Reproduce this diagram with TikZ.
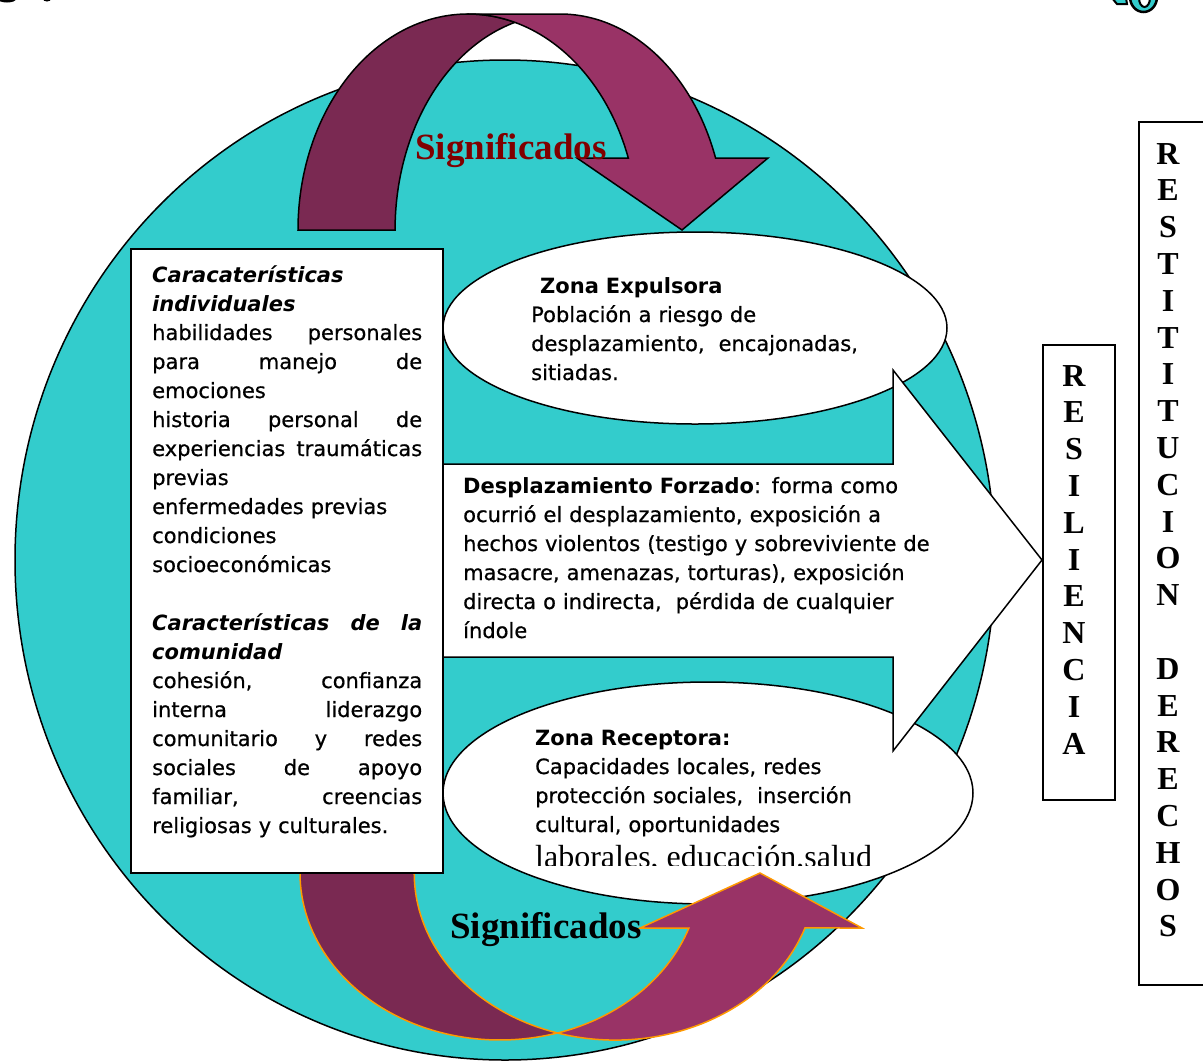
\documentclass[tikz,border=0pt]{standalone}
\usepackage{fontspec}
\setmainfont{DejaVu Sans}[UprightFeatures={FakeBold=0.6}]
\newfontfamily\tnr{Liberation Serif}
\definecolor{ringcyan}{HTML}{33CCCC}
\definecolor{plumdark}{HTML}{7A2952}
\definecolor{plumlight}{HTML}{993366}
\definecolor{wine}{HTML}{800000}
\definecolor{amber}{HTML}{FF9900}
% a line spread over the full column width
\newcommand{\jline}[1]{\leavevmode\hbox to 270pt{#1}}
\begin{document}
\begin{tikzpicture}[x=1pt,y=-1pt,
  outl/.style={draw=black,line width=1.5pt,line join=miter},
  body/.style={font=\fontsize{21}{29}\selectfont,inner sep=0pt,align=left,anchor=base west},
  vword/.style={font=\tnr\bfseries\fontsize{32}{36.8}\selectfont,inner sep=0pt,align=center,text width=60pt,anchor=base},
  bigword/.style={font=\tnr\bfseries\fontsize{37}{37}\selectfont,inner sep=0pt,anchor=base}]
\useasboundingbox (0,0) rectangle (1203,1061);

% stray fragments at the upper edge
\fill[black] (7,-1) ellipse [x radius=9pt,y radius=3.5pt];
\fill[black] (47,-1) ellipse [x radius=4pt,y radius=2.5pt];
\filldraw[fill=ringcyan,draw=black,line width=2pt] (1112,-2) -- (1126,-2) -- (1127,4) -- (1117,4) -- cycle;
\filldraw[fill=ringcyan,draw=black,line width=2.5pt] (1143.5,-3) ellipse [x radius=13.5pt,y radius=15pt];
\filldraw[fill=white,draw=black,line width=2pt] (1144.5,-2) ellipse [x radius=5.5pt,y radius=9pt];

% large cyan disc
\path[outl,fill=ringcyan] (505,560) ellipse [x radius=490pt,y radius=500pt];

% zones
\path[outl,fill=white] (695,328) ellipse [x radius=252pt,y radius=96pt];
\path[outl,fill=white] (708,793) ellipse [x radius=265pt,y radius=111pt];

% upper curved arrow: back half, then front half with the head
\path[outl,fill=plumdark] (298,230)
  arc[start angle=180,end angle=74,x radius=170pt,y radius=216pt]
  arc[start angle=105.9,end angle=180,x radius=165pt,y radius=216pt] -- cycle;
\path[outl,fill=plumlight] (468,14) -- (560,14)
  arc[start angle=90,end angle=19.47,x radius=165pt,y radius=216pt]
  -- (768,158) -- (682,230) -- (577,158) -- (628.3,158)
  arc[start angle=19.47,end angle=90,x radius=170pt,y radius=216pt] -- cycle;

% block arrow towards resilience
\path[outl,fill=white] (435,464) -- (893,464) -- (893,370) -- (1042,560)
  -- (893,751) -- (893,657) -- (435,657) -- cycle;

% lower curved arrow
\path[draw=amber,line width=1.5pt,fill=plumdark] (300,873)
  arc[start angle=180,end angle=286.7,x radius=200pt,y radius=167pt]
  arc[start angle=253.3,end angle=180,x radius=201pt,y radius=167pt] -- cycle;
\path[draw=amber,line width=1.5pt,fill=plumlight] (557.4,1033)
  arc[start angle=253.3,end angle=340.8,x radius=201pt,y radius=167pt]
  -- (862,928) -- (760,873) -- (640,928) -- (688.9,928)
  arc[start angle=340.8,end angle=286.7,x radius=200pt,y radius=167pt] -- cycle;

% characteristics box
\path[outl,fill=white] (131,249) rectangle (443,873);
\node[body,text width=270pt] (carac) at (152,282) {%
\textbf{\textit{Caracaterísticas}}\\
\textbf{\textit{individuales}}\\
\jline{habilidades\hfill personales}\\
\jline{para\hfill manejo\hfill de}\\
emociones\\
\jline{historia\hfill personal\hfill de}\\
\jline{experiencias\hfill traumáticas}\\
previas\\
enfermedades previas\\
condiciones\\
socioeconómicas\\[29pt]
\jline{\textbf{\textit{Características\hfill de\hfill la}}}\\
\textbf{\textit{comunidad}}\\
\jline{cohesión,\hfill confianza}\\
\jline{interna\hfill liderazgo}\\
\jline{comunitario\hfill y\hfill redes}\\
\jline{sociales\hfill de\hfill apoyo}\\
\jline{familiar,\hfill creencias}\\
religiosas y culturales.};

% zone texts
\node[body,text width=400pt] (expul) at (531,293) {%
\hspace*{9pt}\textbf{Zona Expulsora}\\
Población a riesgo de\\
desplazamiento,\ \ encajonadas,\\
sitiadas.};
\node[body,text width=500pt] (despl) at (463,493) {%
\textbf{Desplazamiento Forzado}: forma como\\
ocurrió el desplazamiento, exposición a\\
hechos violentos (testigo y sobreviviente de\\
masacre, amenazas, torturas), exposición\\
directa o indirecta,\ \ pérdida de cualquier\\
índole};
\node[body,text width=400pt] (recep) at (535,745) {%
\textbf{Zona Receptora:}\\
Capacidades locales, redes\\
protección sociales,\ \ inserción\\
cultural, oportunidades};
\begin{scope}
  \clip (520,830) rectangle (960,865);
  \node[inner sep=0pt,anchor=base west,font=\tnr\fontsize{32}{32}\selectfont] (labor) at (535,867) {laborales, educación,salud};
\end{scope}

% meaning labels
\node[bigword,text=wine] (signtop) at (511,159) {Significados};
\node[bigword,text=black] (signbot) at (546,938) {Significados};

% right-hand columns
\path[outl,fill=white] (1043,345) rectangle (1115,800);
\path[outl,fill=white] (1139,122) rectangle (1215,985);
\node[vword] (resil) at (1074,386) {R\\E\\S\\I\\L\\I\\E\\N\\C\\I\\A};
\node[vword] (restit) at (1168,164) {R\\E\\S\\T\\I\\T\\I\\T\\U\\C\\I\\O\\N\\[36.8pt]D\\E\\R\\E\\C\\H\\O\\S};
\end{tikzpicture}
\end{document}
